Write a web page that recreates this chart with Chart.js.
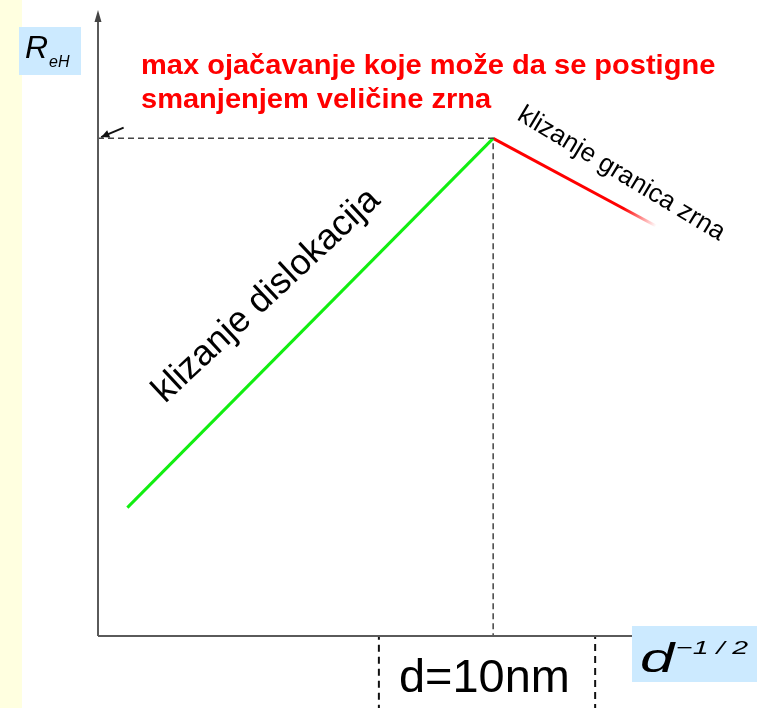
<!DOCTYPE html>
<html lang="sr">
<head>
  <meta charset="UTF-8"/>
  <title>Granica tečenja i veličina zrna</title>
  <style>
    body {
      margin: 0;
      padding: 0;
      background: #fff;
    }
    #chart {
      display: block;
    }
  </style>
</head>
<body>

<canvas id="chart" width="761" height="708"></canvas>

<script src="https://cdn.jsdelivr.net/npm/chart.js"></script>
<script>
// Hall-Petch sketch: yield strength vs d^-1/2 (arbitrary units)
const dislocX = [0.55, 7.4];
const dislocY = [2.05, 7.95];
const grainX = [7.4, 10.45];
const grainY = [7.95, 6.55];
const guideX = [0, 7.4, 7.4];
const guideY = [7.95, 7.95, 0];
const boxX = [5.26, 5.26, 9.31, 9.31];
const boxY = [-1.4, 0, 0, -1.4];

const FONT = "'Liberation Sans', Arial, sans-serif";

function pts(xs, ys) {
  return xs.map((x, i) => ({ x: x, y: ys[i] }));
}

// red line fades out towards its end
function fadingRed(context) {
  const chart = context.chart;
  if (!chart.chartArea) return "red";
  const sx = chart.scales.x, sy = chart.scales.y;
  const x0 = sx.getPixelForValue(grainX[0]), y0 = sy.getPixelForValue(grainY[0]);
  const x1 = sx.getPixelForValue(grainX[1]), y1 = sy.getPixelForValue(grainY[1]);
  const g = chart.ctx.createLinearGradient(x0, y0, x1, y1);
  g.addColorStop(0, "rgba(255,0,0,1)");
  g.addColorStop(0.8, "rgba(255,0,0,1)");
  g.addColorStop(1, "rgba(255,0,0,0)");
  return g;
}

// text drawn with an optional horizontal stretch and rotation
function label(ctx, text, x, y, font, opts) {
  opts = opts || {};
  ctx.save();
  ctx.translate(x, y);
  if (opts.angle) ctx.rotate(opts.angle * Math.PI / 180);
  if (opts.stretch) ctx.scale(opts.stretch, 1);
  ctx.font = font;
  ctx.fillText(text, 0, 0);
  ctx.restore();
}

const backdrop = {
  id: "backdrop",
  beforeDraw(chart) {
    const ctx = chart.ctx;
    ctx.save();
    ctx.fillStyle = "#fff";
    ctx.fillRect(0, 0, chart.width, chart.height);
    ctx.fillStyle = "#ffffe0";
    ctx.fillRect(0, 0, 22, chart.height);
    // label backgrounds
    ctx.fillStyle = "#cceaff";
    ctx.fillRect(19, 27, 62, 48);
    ctx.fillRect(632, 626, 125, 56);
    ctx.restore();
  }
};

const axesAndText = {
  id: "axesAndText",
  afterDatasetsDraw(chart) {
    const ctx = chart.ctx;
    const sx = chart.scales.x, sy = chart.scales.y;
    const X = v => sx.getPixelForValue(v);
    const Y = v => sy.getPixelForValue(v);
    ctx.save();

    // axes
    ctx.strokeStyle = "#5a5a5a";
    ctx.lineWidth = 2;
    ctx.beginPath();
    ctx.moveTo(X(0), Y(0));
    ctx.lineTo(X(0), Y(9.9));
    ctx.moveTo(X(0), Y(0));
    ctx.lineTo(X(10), Y(0));
    ctx.stroke();
    ctx.fillStyle = "#444";
    ctx.beginPath();
    ctx.moveTo(X(0), Y(10));
    ctx.lineTo(X(0) - 3.5, Y(10) + 12);
    ctx.lineTo(X(0) + 3.5, Y(10) + 12);
    ctx.closePath();
    ctx.fill();

    // small pointer to the max value on the y axis
    const ax0 = X(0.48), ay0 = Y(8.12), ax1 = X(0.06), ay1 = Y(7.97);
    ctx.strokeStyle = "#111";
    ctx.lineWidth = 2;
    ctx.beginPath();
    ctx.moveTo(ax0, ay0);
    ctx.lineTo(ax1, ay1);
    ctx.stroke();
    const ang = Math.atan2(ay1 - ay0, ax1 - ax0);
    ctx.fillStyle = "#111";
    ctx.beginPath();
    ctx.moveTo(ax1, ay1);
    ctx.lineTo(ax1 - 9 * Math.cos(ang - 0.45), ay1 - 9 * Math.sin(ang - 0.45));
    ctx.lineTo(ax1 - 9 * Math.cos(ang + 0.45), ay1 - 9 * Math.sin(ang + 0.45));
    ctx.closePath();
    ctx.fill();

    // axis titles
    ctx.fillStyle = "#000";
    ctx.textBaseline = "alphabetic";
    ctx.textAlign = "left";
    label(ctx, "R", 25, 58, "italic 32px " + FONT);
    label(ctx, "eH", 49, 67, "italic 16px " + FONT);
    label(ctx, "d", 640, 672, "italic 41px " + FONT, { stretch: 1.5 });
    label(ctx, "\u22121 / 2", 676, 654, "italic 19px " + FONT, { stretch: 1.5 });

    label(ctx, "d=10nm", 399, 692, "46px " + FONT, { stretch: 1.02 });

    // annotation at the maximum
    ctx.fillStyle = "#ff0000";
    label(ctx, "max ojačavanje koje može da se postigne", 141, 74, "bold 27px " + FONT, { stretch: 1.075 });
    label(ctx, "smanjenjem veličine zrna", 141, 108, "bold 27px " + FONT, { stretch: 1.075 });

    // labels along the two lines
    ctx.fillStyle = "#000";
    label(ctx, "klizanje dislokacija", 165, 404, "36px " + FONT, { angle: -43 });
    label(ctx, "klizanje granica zrna", 516, 119, "26px " + FONT, { angle: 31 });

    ctx.restore();
  }
};

new Chart(document.getElementById("chart"), {
  type: "scatter",
  data: {
    datasets: [
      {
        data: pts(guideX, guideY),
        showLine: true,
        borderColor: "#444",
        borderWidth: 1.5,
        borderDash: [6, 4],
        pointRadius: 0,
        clip: false
      },
      {
        data: pts(boxX, boxY),
        showLine: true,
        borderColor: "#111",
        borderWidth: 2,
        borderDash: [7, 5],
        pointRadius: 0,
        clip: false
      },
      {
        data: pts(dislocX, dislocY),
        showLine: true,
        borderColor: "#11ee11",
        borderWidth: 3,
        pointRadius: 0,
        clip: false
      },
      {
        data: pts(grainX, grainY),
        showLine: true,
        borderColor: fadingRed,
        borderWidth: 3,
        pointRadius: 0,
        clip: false
      }
    ]
  },
  options: {
    responsive: false,
    animation: false,
    layout: { padding: { left: 98, right: 129, top: 10, bottom: 72 } },
    scales: {
      x: { type: "linear", min: 0, max: 10, display: false },
      y: { type: "linear", min: 0, max: 10, display: false }
    },
    plugins: {
      legend: { display: false },
      tooltip: { enabled: false }
    }
  },
  plugins: [backdrop, axesAndText]
});
</script>

</body>
</html>
